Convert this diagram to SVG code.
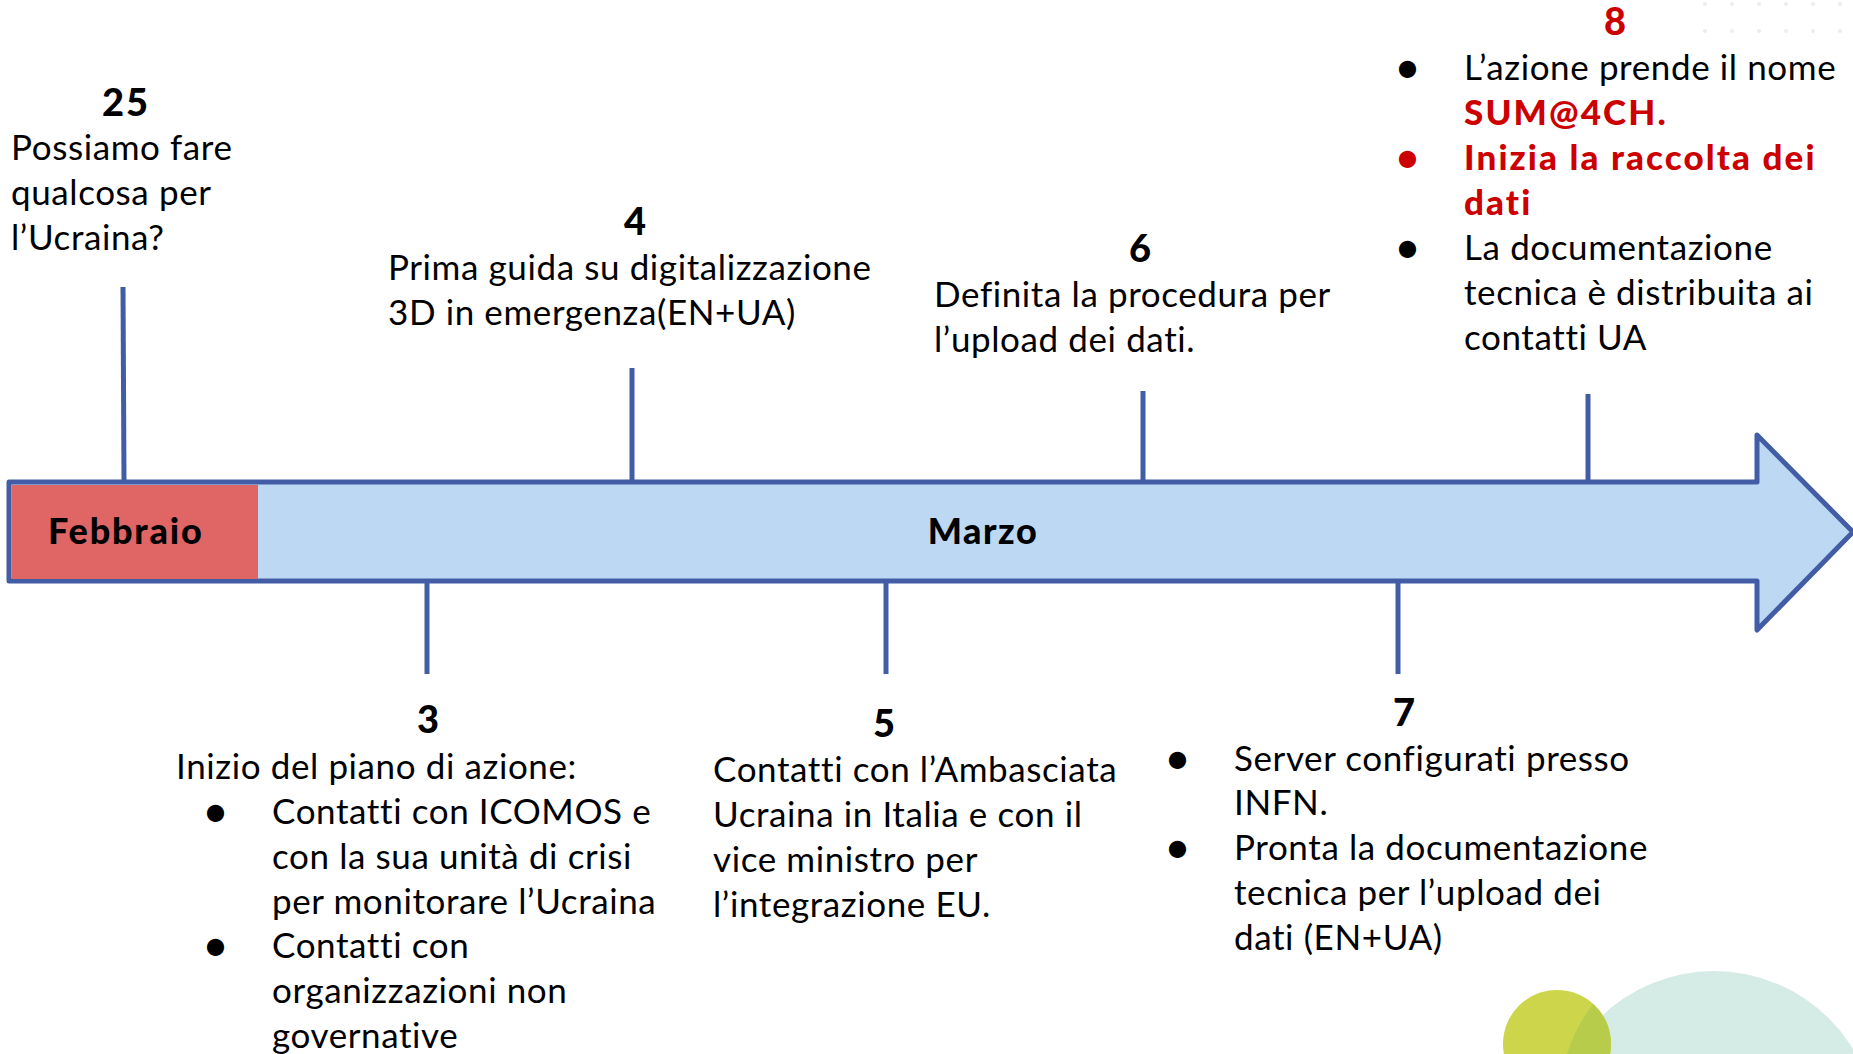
<svg xmlns="http://www.w3.org/2000/svg" width="1853" height="1054" viewBox="0 0 1853 1054">
<style>
.t{font-family:Lato,"Open Sans","Liberation Sans",sans-serif;font-size:35px;letter-spacing:0.6px;fill:#000}
.n{font-family:Lato,"Open Sans","Liberation Sans",sans-serif;font-size:38px;font-weight:900;fill:#000;text-anchor:middle}
.m{font-family:Lato,"Open Sans","Liberation Sans",sans-serif;font-size:36px;font-weight:900;fill:#000}
.r{fill:#CC0000}
.b{font-weight:900;letter-spacing:2.1px}
.tick{stroke:#435CA6;stroke-width:5;fill:none}
</style>
<defs>
<pattern id="dots" width="27" height="27" patternUnits="userSpaceOnUse"><circle cx="4" cy="4" r="2" fill="#EDEDED"/></pattern>
</defs>
<g id="decor">
<rect x="1690" y="0" width="163" height="40" fill="url(#dots)"/>
<circle cx="1714" cy="1134" r="163" fill="#D5EBE6"/>
<circle cx="1557" cy="1044" r="54" fill="#CDD64A"/>
<path d="M1611,1044 A54,54 0 0 0 1593,1004 A163,163 0 0 0 1560,1098 A54,54 0 0 0 1611,1044 Z" fill="#B6CC4A"/>
</g>
<g id="timeline">
<path d="M9,482 H1757 V435 L1853,532 L1757,630 V581 H9 Z" fill="#BDD8F2" stroke="#435CA6" stroke-width="5" stroke-linejoin="round"/>
<rect x="12" y="485" width="246" height="94" fill="#E06666"/>
<text class="m" x="48" y="544" style="letter-spacing:1.8px">Febbraio</text>
<text class="m" x="983" y="544" style="text-anchor:middle;letter-spacing:1.5px">Marzo</text>
</g>
<g id="connectors">
<line class="tick" x1="123" y1="287" x2="124" y2="482"/>
<line class="tick" x1="632" y1="368" x2="632" y2="482"/>
<line class="tick" x1="1143" y1="391" x2="1143" y2="482"/>
<line class="tick" x1="1588" y1="394" x2="1588" y2="482"/>
<line class="tick" x1="427" y1="581" x2="427" y2="674"/>
<line class="tick" x1="886" y1="581" x2="886" y2="674"/>
<line class="tick" x1="1398" y1="581" x2="1398" y2="674"/>
</g>
<g id="ev25">
<text class="n" x="126" y="116" style="letter-spacing:2px">25</text>
<text class="t" x="11" y="160">Possiamo fare</text>
<text class="t" x="11" y="205">qualcosa per</text>
<text class="t" x="11" y="250">l’Ucraina?</text>
</g>
<g id="ev4">
<text class="n" x="635" y="235">4</text>
<text class="t" x="388" y="280">Prima guida su digitalizzazione</text>
<text class="t" x="388" y="325">3D in emergenza(EN+UA)</text>
</g>
<g id="ev6">
<text class="n" x="1140" y="262">6</text>
<text class="t" x="934" y="307">Definita la procedura per</text>
<text class="t" x="934" y="352">l’upload dei dati.</text>
</g>
<g id="ev8">
<text class="n r" x="1615" y="35">8</text>
<text class="t" x="1397" y="80">●</text>
<text class="t" x="1464" y="80">L’azione prende il nome</text>
<text class="t r b" x="1464" y="125">SUM@4CH.</text>
<text class="t r" x="1397" y="170">●</text>
<text class="t r b" x="1464" y="170">Inizia la raccolta dei</text>
<text class="t r b" x="1464" y="215">dati</text>
<text class="t" x="1397" y="260">●</text>
<text class="t" x="1464" y="260">La documentazione</text>
<text class="t" x="1464" y="305">tecnica è distribuita ai</text>
<text class="t" x="1464" y="350">contatti UA</text>
</g>
<g id="ev3">
<text class="n" x="428" y="733">3</text>
<text class="t" x="176" y="779">Inizio del piano di azione:</text>
<text class="t" x="205" y="824">●</text>
<text class="t" x="272" y="824">Contatti con ICOMOS e</text>
<text class="t" x="272" y="869">con la sua unità di crisi</text>
<text class="t" x="272" y="914">per monitorare l’Ucraina</text>
<text class="t" x="205" y="958">●</text>
<text class="t" x="272" y="958">Contatti con</text>
<text class="t" x="272" y="1003">organizzazioni non</text>
<text class="t" x="272" y="1048">governative</text>
</g>
<g id="ev5">
<text class="n" x="884" y="737">5</text>
<text class="t" x="713" y="782">Contatti con l’Ambasciata</text>
<text class="t" x="713" y="827">Ucraina in Italia e con il</text>
<text class="t" x="713" y="872">vice ministro per</text>
<text class="t" x="713" y="917">l’integrazione EU.</text>
</g>
<g id="ev7">
<text class="n" x="1404" y="726">7</text>
<text class="t" x="1167" y="771">●</text>
<text class="t" x="1234" y="771">Server configurati presso</text>
<text class="t" x="1234" y="815">INFN.</text>
<text class="t" x="1167" y="860">●</text>
<text class="t" x="1234" y="860">Pronta la documentazione</text>
<text class="t" x="1234" y="905">tecnica per l’upload dei</text>
<text class="t" x="1234" y="950">dati (EN+UA)</text>
</g>
</svg>
